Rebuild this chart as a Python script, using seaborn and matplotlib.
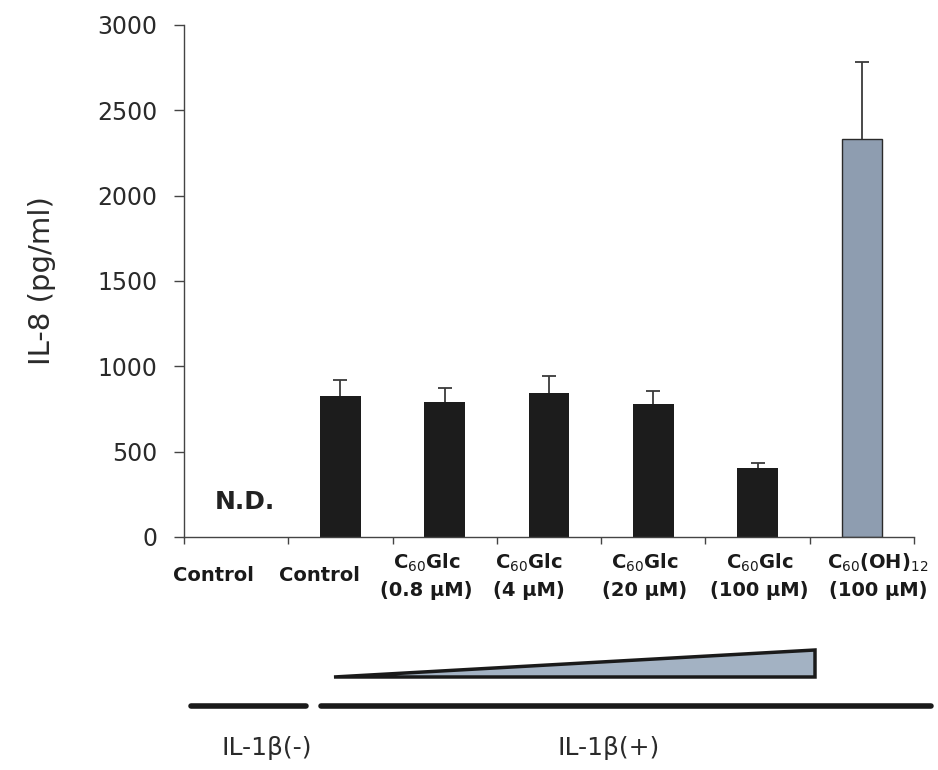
import matplotlib
matplotlib.use("Agg")
import matplotlib.pyplot as plt
import matplotlib.transforms as mtransforms
from matplotlib.lines import Line2D
from matplotlib.patches import Polygon
import seaborn as sns
import pandas as pd

# ---- data ----
categories = ["Control", "Control", "C$_{60}$Glc\n(0.8 µM)", "C$_{60}$Glc\n(4 µM)",
              "C$_{60}$Glc\n(20 µM)", "C$_{60}$Glc\n(100 µM)",
              "C$_{60}$(OH)$_{12}$\n(100 µM)"]
values = [0, 826, 789, 842, 779, 402, 2330]
errors = [0, 94, 86, 103, 76, 33, 453]
y_ticks = [0, 500, 1000, 1500, 2000, 2500, 3000]
ylabel = "IL-8 (pg/ml)"
nd_text = "N.D."
group_labels = ["IL-1β(-)", "IL-1β(+)"]

bar_colors = ["#1c1c1c"] * 6 + ["#8e9db0"]
label_offsets_px = [-23, -21, -18, -20, -9, 2, 16]

sns.set_theme(style="white")
plt.rcParams["font.family"] = ["DejaVu Sans"]
plt.rcParams["mathtext.fontset"] = "dejavusans"

fig = plt.figure(figsize=(9.38, 7.70), dpi=100)
W, H = 938, 770
ax = fig.add_axes([184 / W, 1 - 537 / H, (914 - 184) / W, (537 - 25) / H])

ids = [f"c{i}" for i in range(len(categories))]
df = pd.DataFrame({"cat": ids, "val": values})
sns.barplot(data=df, x="cat", y="val", hue="cat", palette=bar_colors, legend=False,
            width=0.39, ax=ax, saturation=1, linewidth=0)
for i, p in enumerate(ax.patches):
    if i == len(ax.patches) - 1:
        p.set_edgecolor("#2a2a2a")
        p.set_linewidth(1.0)

xs = [i for i, e in enumerate(errors) if e > 0]
_, caps, _ = ax.errorbar(xs, [values[i] for i in xs],
                         yerr=[[0] * len(xs), [errors[i] for i in xs]],
                         fmt="none", ecolor="#3a3a3a", elinewidth=1.3, capsize=5, capthick=1.3)
if len(caps) == 2:
    caps[0].set_visible(False)

ax.set_ylim(0, 3000)
ax.set_xlim(-0.5, len(categories) - 0.5)
ax.set_yticks(y_ticks)
ax.set_yticklabels([str(t) for t in y_ticks], fontsize=17, color="#2a2a2a")
ax.tick_params(axis="y", direction="out", length=7, width=1, color="#444444", pad=12, left=True)

ax.set_xticks(range(len(categories)))
ax.set_xticklabels(categories, fontsize=14, fontweight="bold", color="#1a1a1a")
ax.set_xticks([i - 0.5 for i in range(len(categories) + 1)], minor=True)
ax.tick_params(axis="x", which="major", length=0, pad=28)
ax.tick_params(axis="x", which="minor", direction="out", length=5, width=1, color="#444444", bottom=True)
for lab, off in zip(ax.get_xticklabels(), label_offsets_px):
    lab.set_verticalalignment("center")
    lab.set_linespacing(1.45)
    lab.set_transform(lab.get_transform() + mtransforms.ScaledTranslation(off / 100, 0, fig.dpi_scale_trans))

ax.set_xlabel("")
ax.set_ylabel(ylabel, fontsize=21, color="#2a2a2a")
ax.yaxis.set_label_coords(-0.176, 0.5)

for side in ["top", "right"]:
    ax.spines[side].set_visible(False)
for side in ["left", "bottom"]:
    ax.spines[side].set_color("#444444")
    ax.spines[side].set_linewidth(1.0)

ax.text(0.08, 205, nd_text, fontsize=18, fontweight="bold", ha="center", va="center", color="#222222")

# ---- annotations below ----
def fx(px):
    return px / W

def fy(py):
    return 1 - py / H

tri = Polygon([(fx(334), fy(677)), (fx(815), fy(650)), (fx(815), fy(677))], closed=True,
              transform=fig.transFigure, facecolor="#a3b2c3", edgecolor="#1a1a1a", linewidth=2.5,
              joinstyle="miter")
fig.add_artist(tri)
fig.add_artist(Line2D([fx(191), fx(306)], [fy(706), fy(706)], transform=fig.transFigure,
                      color="#1a1a1a", linewidth=4))
fig.add_artist(Line2D([fx(321), fx(931)], [fy(706), fy(706)], transform=fig.transFigure,
                      color="#1a1a1a", linewidth=4))
fig.text(fx(267), fy(748), group_labels[0], fontsize=18, ha="center", va="center", color="#2a2a2a")
fig.text(fx(609), fy(748), group_labels[1], fontsize=18, ha="center", va="center", color="#2a2a2a")

fig.savefig("out.png", dpi=100, facecolor="white")
